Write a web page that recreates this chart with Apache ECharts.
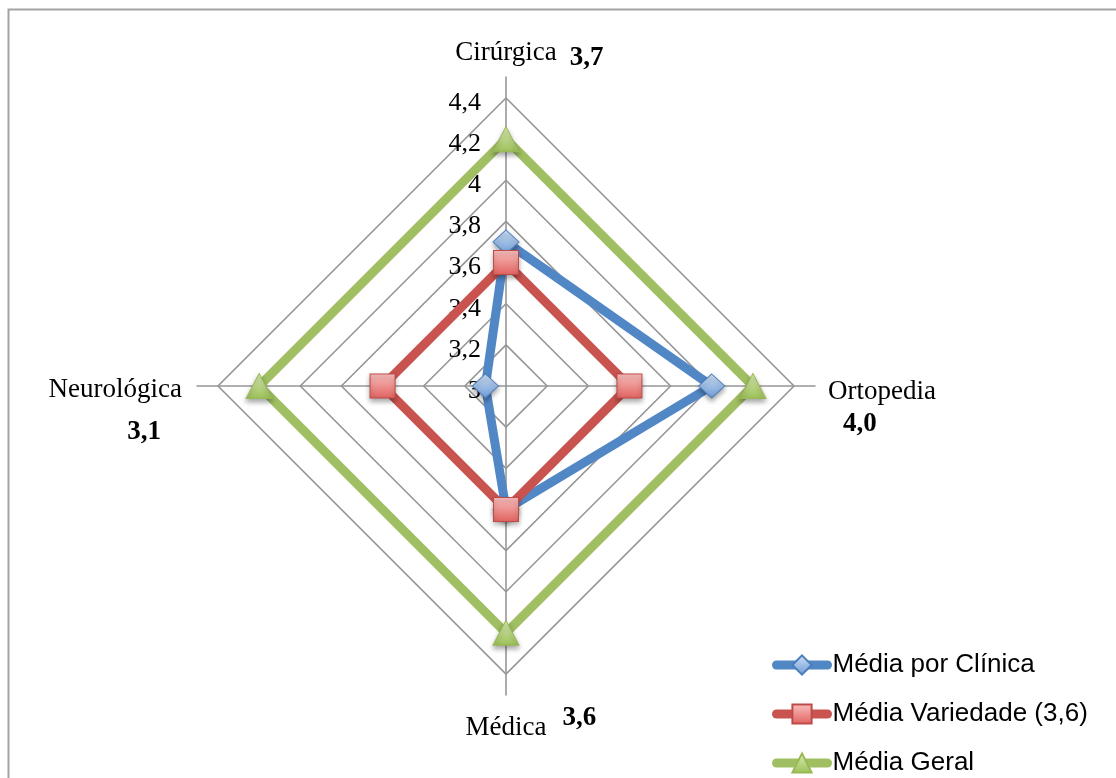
<!DOCTYPE html>
<html>
<head>
<meta charset="utf-8">
<script src="https://cdn.jsdelivr.net/npm/echarts@6/dist/echarts.min.js"></script>
<style>
  html, body { margin: 0; padding: 0; background: #ffffff; }
  #chart { width: 1116px; height: 778px; }
</style>
</head>
<body>
<div id="chart"></div>
<script>
// Clinics, in the order the radar lays its spokes out (top, left, bottom, right)
const categories = ['Cirúrgica', 'Neurológica', 'Médica', 'Ortopedia'];
const mediaPorClinica = [3.7, 3.1, 3.6, 4.0];
const mediaVariedade = [3.6, 3.6, 3.6, 3.6];
const mediaGeral = [4.2, 4.2, 4.2, 4.2];
const seriesNames = ['Média por Clínica', 'Média Variedade (3,6)', 'Média Geral'];
const seriesValues = [mediaPorClinica, mediaVariedade, mediaGeral];

// Value scale of the rings
const scaleMin = 3;
const scaleMax = 4.4;
const scaleSteps = 7;
const tickLabels = ['3', '3,2', '3,4', '3,6', '3,8', '4', '4,2', '4,4'];

// Where each clinic name sits around the web
const nameSlots = ['top', 'left', 'bottom', 'right'];

const serif = 'Liberation Serif';
const sans = 'Liberation Sans';

const looks = [
  { line: '#5287C6', symbol: 'diamond', size: [26, 24], fill: ['#D0E0F5', '#6C9BD5'], border: '#4A7EBB' },
  { line: '#C9534F', symbol: 'rect', size: [25, 24], fill: ['#FAC0BE', '#E0625F'], border: '#BE4B48' },
  { line: '#A0BF62', symbol: 'triangle', size: [26, 25], fill: ['#DDEDB8', '#9CC057'], border: '#98B954' }
];

function grad(c) {
  return new echarts.graphic.LinearGradient(0, 0, 0, 1, [
    { offset: 0, color: c[0] },
    { offset: 1, color: c[1] }
  ]);
}

function fmt(v) {
  return v.toFixed(1).replace('.', ',');
}

const nameRich = {
  tg: { fontFamily: serif, fontSize: 27, fontWeight: 'bold', color: 'rgba(0,0,0,0)', lineHeight: 22, padding: [10, 13, 0, 0] },
  tn: { fontFamily: serif, fontSize: 27, color: '#000', lineHeight: 22 },
  tv: { fontFamily: serif, fontSize: 27, fontWeight: 'bold', color: '#000', lineHeight: 22, padding: [10, 0, 0, 13] },
  bg: { fontFamily: serif, fontSize: 27, fontWeight: 'bold', color: 'rgba(0,0,0,0)', lineHeight: 39, padding: [0, 16, 19, 0] },
  bn: { fontFamily: serif, fontSize: 27, color: '#000', lineHeight: 39 },
  bv: { fontFamily: serif, fontSize: 27, fontWeight: 'bold', color: '#000', lineHeight: 39, padding: [0, 0, 19, 16] },
  rn: { fontFamily: serif, fontSize: 27, color: '#000', lineHeight: 32, padding: [44, 0, 0, 0] },
  rv: { fontFamily: serif, fontSize: 27, fontWeight: 'bold', color: '#000', lineHeight: 32, padding: [44, 0, 0, 15] },
  ln: { fontFamily: serif, fontSize: 27, color: '#000', lineHeight: 42, padding: [50, 2, 0, 0], align: 'right' },
  lv: { fontFamily: serif, fontSize: 27, fontWeight: 'bold', color: '#000', lineHeight: 42, padding: [50, 23, 0, 0], align: 'right' }
};

function nameFormatter(name) {
  const i = categories.indexOf(name);
  const v = fmt(mediaPorClinica[i]);
  switch (nameSlots[i]) {
    case 'top': return '{tg|' + v + '}{tn|' + name + '}{tv|' + v + '}';
    case 'bottom': return '{bg|' + v + '}{bn|' + name + '}{bv|' + v + '}';
    case 'right': return '{rn|' + name + '}\n{rv|' + v + '}';
    default: return '{ln|' + name + '}\n{lv|' + v + '}';
  }
}

const gridLine = { color: '#969696', width: 1.6 };

const chart = echarts.init(document.getElementById('chart'), null, { renderer: 'canvas' });

chart.setOption({
  backgroundColor: '#ffffff',
  animation: false,
  graphic: [{
    type: 'rect',
    silent: true,
    z: -10,
    shape: { x: 8.5, y: 9.5, width: 1300, height: 1000 },
    style: { fill: 'none', stroke: '#A3A3A3', lineWidth: 2 }
  }],
  // hidden cartesian host for the legend's line-and-marker keys
  grid: { left: 0, top: 0, width: 1, height: 1, show: false },
  xAxis: { type: 'category', show: false, data: [] },
  yAxis: { type: 'value', show: false },
  legend: {
    orient: 'vertical',
    left: 772,
    top: 652,
    height: 130,
    padding: 0,
    itemWidth: 51,
    itemHeight: 24,
    itemGap: 23,
    selectedMode: false,
    data: seriesNames,
    lineStyle: { width: 9, cap: 'round' },
    textStyle: { fontFamily: sans, fontSize: 26, lineHeight: 26, color: '#000' }
  },
  radar: [
    {
      // rings and value labels
      center: [506, 386],
      radius: 288,
      shape: 'polygon',
      startAngle: 90,
      splitNumber: scaleSteps,
      indicator: categories.map(function (c, i) {
        const ind = { name: c, min: scaleMin, max: scaleMax };
        if (i === 0) {
          ind.axisLabel = {
            show: true,
            margin: 25,
            rich: {
              t: { fontFamily: serif, fontSize: 26, color: '#000', lineHeight: 26, padding: [10, 0, 0, 0] }
            },
            formatter: function (val) {
              const k = Math.round((val - scaleMin) / ((scaleMax - scaleMin) / scaleSteps));
              return '{t|' + tickLabels[k] + '}';
            }
          };
        }
        return ind;
      }),
      axisName: { show: false },
      axisLine: { show: false },
      axisTick: { show: false },
      axisLabel: { show: false },
      splitLine: { lineStyle: gridLine },
      splitArea: { show: false }
    },
    {
      // spokes reaching past the outer ring, with the clinic names
      center: [506, 386],
      radius: 309,
      shape: 'polygon',
      startAngle: 90,
      splitNumber: 1,
      indicator: categories.map(function (c) { return { name: c, min: 0, max: 1 }; }),
      nameGap: 13,
      axisName: {
        formatter: nameFormatter,
        rich: nameRich,
        fontFamily: serif,
        fontSize: 27,
        color: '#000'
      },
      axisLine: { show: true, lineStyle: gridLine },
      axisTick: { show: false },
      axisLabel: { show: false },
      splitLine: { show: false },
      splitArea: { show: false }
    }
  ],
  series: seriesNames.map(function (n, k) {
    return {
      type: 'line',
      name: n,
      data: [],
      symbol: looks[k].symbol,
      symbolSize: looks[k].size,
      lineStyle: { color: looks[k].line, width: 9, cap: 'round' },
      itemStyle: { color: grad(looks[k].fill), borderColor: looks[k].border, borderWidth: 1 }
    };
  }).concat(seriesNames.map(function (n, k) {
    return {
      type: 'radar',
      radarIndex: 0,
      name: n,
      z: 3 + k,
      symbol: looks[k].symbol,
      symbolSize: looks[k].size,
      lineStyle: { color: looks[k].line, width: 9, join: 'miter' },
      itemStyle: {
        color: grad(looks[k].fill),
        borderColor: looks[k].border,
        borderWidth: 1,
        shadowColor: 'rgba(0,0,0,0.35)',
        shadowBlur: 5,
        shadowOffsetY: 3
      },
      data: [{ name: n, value: seriesValues[k] }]
    };
  }))
});
</script>
</body>
</html>
